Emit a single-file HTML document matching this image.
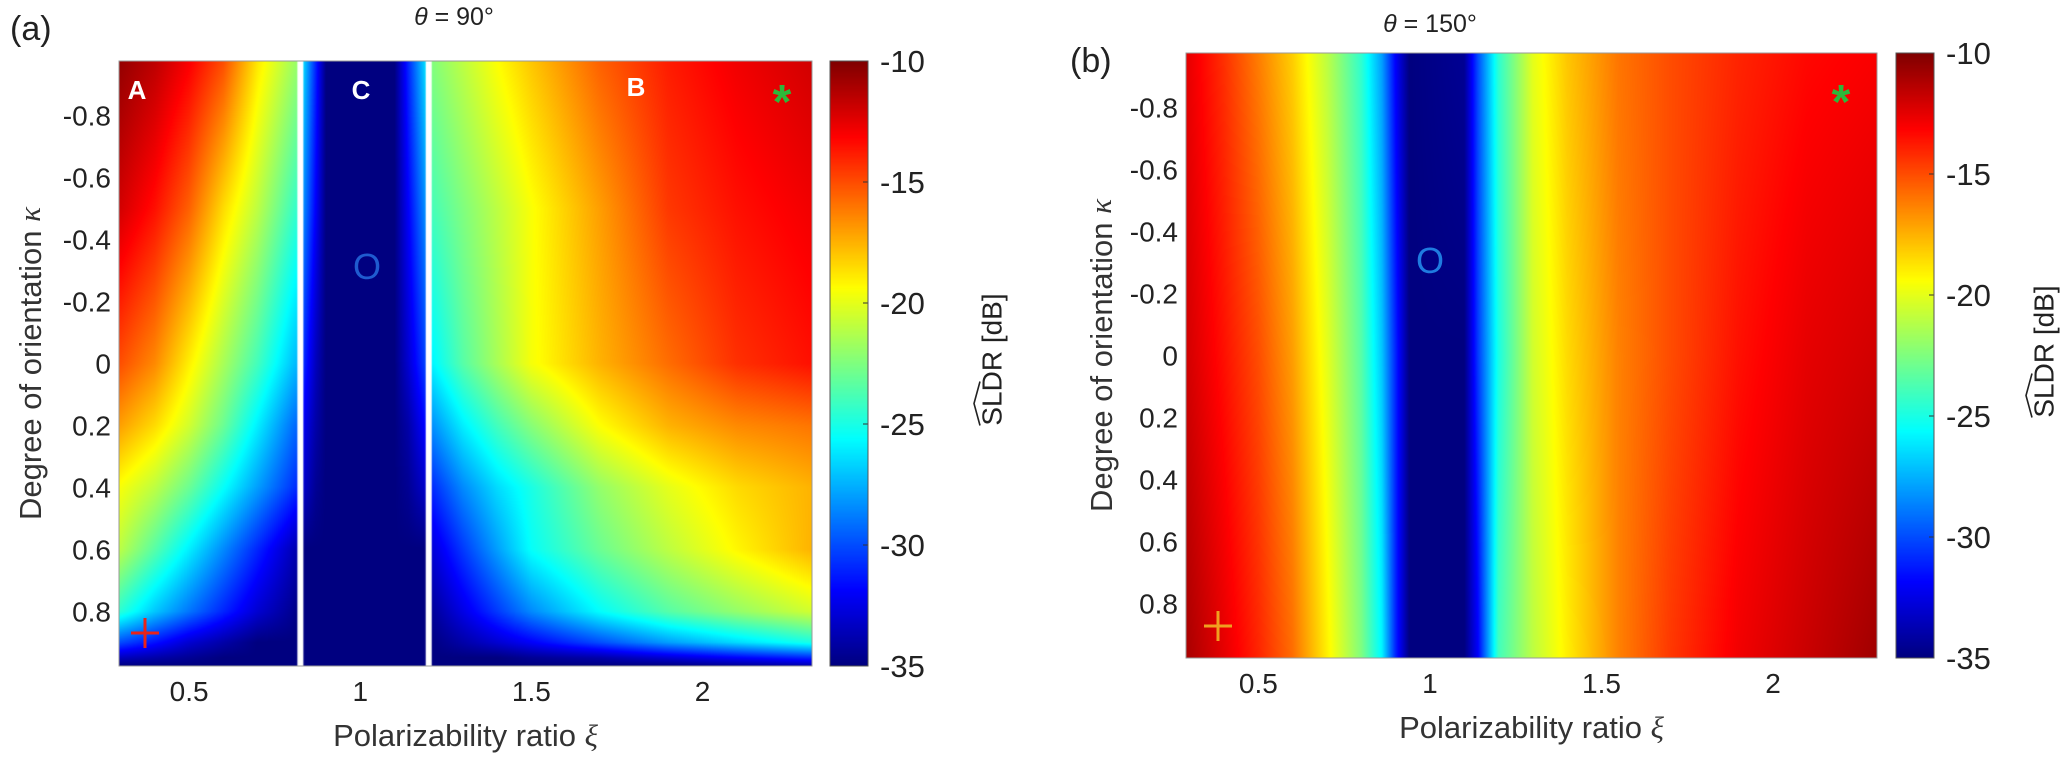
<!DOCTYPE html>
<html><head><meta charset="utf-8">
<style>
body{margin:0;background:#fff;width:2067px;height:771px;overflow:hidden;position:relative;font-family:"Liberation Sans",sans-serif}
canvas{position:absolute}
svg{position:absolute;left:0;top:0}
</style></head><body>
<canvas id="ca" style="left:119px;top:61px" width="693" height="605"></canvas>
<canvas id="cba" style="left:830px;top:61px" width="38" height="605"></canvas>
<canvas id="cb" style="left:1186px;top:53px" width="691" height="605"></canvas>
<canvas id="cbb" style="left:1896px;top:53px" width="38" height="605"></canvas>
<svg id="ov" width="2067" height="771" font-family="Liberation Sans, sans-serif"></svg>
<script>
// ---- data panel (a) ----
const xiA=[0.295,0.4,0.5,0.6,0.7,0.8,0.82,0.83,0.87,0.9,1.1,1.14,1.195,1.205,1.3,1.4,1.5,1.7,1.9,2.1,2.32];
const kapA=[-0.976,-0.5,0,0.2,0.4,0.6,0.8,0.9,0.95,0.976];
const valA=[
[-10.5,-11.5,-13,-15,-18.8,-21.5,-22,-26,-31,-35,-35,-31,-26,-22.5,-21,-19.4,-18,-15.5,-13.8,-12.8,-12],
[-12,-13.5,-15.5,-18.5,-21,-24,-24.5,-28,-32,-35,-35,-32,-28,-24,-22.5,-21,-19.5,-17,-14.5,-13.5,-12.8],
[-15,-16.5,-19,-21.5,-24,-27,-27.5,-30.5,-33.5,-35,-35,-33,-30,-26,-23.5,-21.5,-19.6,-17.5,-15.8,-14.3,-13.5],
[-17,-18.5,-20.5,-23,-26,-29,-29.5,-32,-34,-35,-35,-34,-31.5,-28.5,-26,-24,-22.3,-19.4,-17.5,-16.5,-16],
[-19.5,-21,-23,-25.5,-28,-30.5,-31,-33,-34.5,-35,-35,-34.5,-33,-31,-28.5,-26.5,-25,-22,-20,-18.5,-17.5],
[-21,-23.5,-26,-28.5,-31,-33.5,-34,-35,-35,-35,-35,-35,-35,-33,-30.5,-28,-25.5,-23,-21,-19.2,-17.5],
[-24.5,-27,-29,-31,-33,-34.5,-35,-35,-35,-35,-35,-35,-35,-34.5,-32.5,-30.5,-28.5,-25.6,-23.5,-22,-20.5],
[-30,-31.5,-33,-34,-35,-35,-35,-35,-35,-35,-35,-35,-35,-35,-34,-33,-32,-30,-28,-26.5,-25],
[-33.5,-34,-34.5,-35,-35,-35,-35,-35,-35,-35,-35,-35,-35,-35,-35,-35,-34.5,-34,-33,-32,-31],
[-35,-35,-35,-35,-35,-35,-35,-35,-35,-35,-35,-35,-35,-35,-35,-35,-35,-35,-35,-34.5,-34]];
const gapsA=[0.825,1.2];
// ---- data panel (b) ----
const xiB=[0.29,0.4,0.5,0.6,0.7,0.8,0.86,0.9,0.94,1.1,1.14,1.2,1.3,1.4,1.55,1.7,1.9,2.1,2.3];
const kapB=[-0.976,0,0.976];
const valB=[
[-12.5,-14.3,-16.2,-18.2,-21,-24.5,-28,-32,-35,-34.5,-30,-24.5,-20,-18,-16,-15,-14,-13.3,-13],
[-12,-13.5,-15,-17,-20,-23.5,-27,-31,-35,-35,-30.5,-25,-20.5,-18.5,-16.3,-15,-13.5,-12.5,-12],
[-11,-12.5,-14,-15.8,-19,-22.5,-25.8,-31,-35,-35,-32,-24,-21,-19,-16.3,-14.5,-12.8,-11.8,-10.8]];
const cbTicks=[-10,-15,-20,-25,-30,-35];
const xTicks=[0.5,1,1.5,2];
const yTicks=[-0.8,-0.6,-0.4,-0.2,0,0.2,0.4,0.6,0.8];

function jet(v){
  let t=(v+35)/25; t=Math.max(0,Math.min(1,t));
  const f=(a)=>Math.max(0,Math.min(1,1.5-Math.abs(4*t-a)));
  return [f(3)*255,f(2)*255,f(1)*255];
}
function interp(arr,x){let i=0;while(i<arr.length-2&&x>arr[i+1])i++;let t=(x-arr[i])/(arr[i+1]-arr[i]);t=Math.max(0,Math.min(1,t));return [i,t];}
function drawMap(id,xs,ks,vals,x0,x1,k0,k1){
  const c=document.getElementById(id),g=c.getContext('2d'),W=c.width,H=c.height;
  const img=g.createImageData(W,H);
  for(let py=0;py<H;py++){const k=k0+(k1-k0)*(py+0.5)/H;const [j,u]=interp(ks,k);
    for(let px=0;px<W;px++){const x=x0+(x1-x0)*(px+0.5)/W;const [i,t]=interp(xs,x);
      const a=vals[j][i]*(1-t)+vals[j][i+1]*t,b=vals[j+1][i]*(1-t)+vals[j+1][i+1]*t;
      const col=jet(a*(1-u)+b*u);const o=(py*W+px)*4;
      img.data[o]=col[0];img.data[o+1]=col[1];img.data[o+2]=col[2];img.data[o+3]=255;}}
  g.putImageData(img,0,0);
}
function drawCB(id){const c=document.getElementById(id),g=c.getContext('2d');
  for(let py=0;py<c.height;py++){const col=jet(-10-25*(py+0.5)/c.height);g.fillStyle=`rgb(${col[0]|0},${col[1]|0},${col[2]|0})`;g.fillRect(0,py,c.width,1);}}
const A={x0:0.295,x1:2.32,k0:-0.976,k1:0.976,L:119,T:61,W:693,H:605};
const B={x0:0.289,x1:2.303,k0:-0.976,k1:0.976,L:1186,T:53,W:691,H:605};
drawMap('ca',xiA,kapA,valA,A.x0,A.x1,A.k0,A.k1);
drawMap('cb',xiB,kapB,valB,B.x0,B.x1,B.k0,B.k1);
drawCB('cba');drawCB('cbb');
const gA=document.getElementById('ca').getContext('2d');
gA.fillStyle='#fff';
gapsA.forEach(x=>{gA.fillRect((x-A.x0)/(A.x1-A.x0)*A.W-3,0,6,A.H);});

const ov=document.getElementById('ov');const NS='http://www.w3.org/2000/svg';
function el(tag,attrs,txt){const e=document.createElementNS(NS,tag);for(const k in attrs)e.setAttribute(k,attrs[k]);if(txt!==undefined)e.textContent=txt;ov.appendChild(e);return e;}
function axes(P,cbL,cbW,name,ylx,cbx){
  el('rect',{x:P.L,y:P.T,width:P.W,height:P.H,fill:'none',stroke:'#999','stroke-width':1});
  xTicks.forEach(v=>{const x=P.L+(v-P.x0)/(P.x1-P.x0)*P.W;
    const t=el('text',{x:x,y:P.T+P.H+35,'font-size':28,'text-anchor':'middle',fill:'#222'},String(v));
    });
  yTicks.forEach(v=>{const y=P.T+(v-P.k0)/(P.k1-P.k0)*P.H;
    const t=el('text',{x:P.L-8,y:y+10,'font-size':28,'text-anchor':'end',fill:'#222'},String(v));
    });
  cbTicks.forEach(v=>{const y=P.T+(-10-v)/25*P.H;
    el('line',{x1:cbL+cbW-5,x2:cbL+cbW,y1:y,y2:y,stroke:'#333','stroke-width':1});
    const t=el('text',{x:cbL+cbW+12,y:y+11,'font-size':31,fill:'#222'},String(v));
    });
  el('rect',{x:cbL,y:P.T,width:cbW,height:P.H,fill:'none',stroke:'#555','stroke-width':1});
  const xl=el('text',{x:P.L+P.W/2,y:P.T+P.H+80,'font-size':31,'text-anchor':'middle',fill:'#333'});
  xl.innerHTML='Polarizability ratio <tspan font-family="Liberation Serif" font-style="italic">ξ</tspan>';
  
  const yy=P.T+P.H/2;
  const yl=el('text',{x:ylx,y:yy,'font-size':31,'text-anchor':'middle','dominant-baseline':'middle',fill:'#333',transform:`rotate(-90 ${ylx} ${yy})`});
  yl.innerHTML='Degree of orientation <tspan font-family="Liberation Serif" font-style="italic">κ</tspan>';
  
  const cy=P.T+P.H/2-4;
  const cl=el('text',{x:cbx,y:cy,'font-size':28,'text-anchor':'middle','dominant-baseline':'middle',fill:'#222',transform:`rotate(-90 ${cbx} ${cy})`},'SLDR [dB]');
  
  el('polyline',{points:`${cbx-14},${cy+66} ${cbx-20},${cy+44} ${cbx-14},${cy+22}`,fill:'none',stroke:'#222','stroke-width':1.6});
}
axes(A,830,38,'panel-a',33,994);
axes(B,1896,38,'panel-b',1104,2046);
function txt(x,y,s,attrs,name){const t=el('text',Object.assign({x:x,y:y},attrs),s);return t;}
txt(10,40,'(a)',{'font-size':34,fill:'#222'},'panel-a-label');
txt(1070,72,'(b)',{'font-size':34,fill:'#222'},'panel-b-label');
const t1=txt(454,25,'',{'font-size':25,'text-anchor':'middle',fill:'#222'},'panel-a-title');
t1.innerHTML='<tspan font-style="italic">θ</tspan> = 90°';
const t2=txt(1430,32,'',{'font-size':25,'text-anchor':'middle',fill:'#222'},'panel-b-title');
t2.innerHTML='<tspan font-style="italic">θ</tspan> = 150°';
txt(137,99,'A',{'font-size':26,'font-weight':'bold','text-anchor':'middle',fill:'#fff'},'region-a-label');
txt(361,99,'C',{'font-size':26,'font-weight':'bold','text-anchor':'middle',fill:'#fff'},'region-c-label');
txt(636,96,'B',{'font-size':26,'font-weight':'bold','text-anchor':'middle',fill:'#fff'},'region-b-label');
txt(367,279,'O',{'font-size':36,'text-anchor':'middle',fill:'#1f5bd0'},'marker-o-a');
txt(1430,273,'O',{'font-size':36,'text-anchor':'middle',fill:'#1f7be0'},'marker-o-b');
txt(782,118,'*',{'font-size':48,'font-weight':'bold','text-anchor':'middle',fill:'#2db83a'},'marker-star-a');
txt(1841,118,'*',{'font-size':48,'font-weight':'bold','text-anchor':'middle',fill:'#2db83a'},'marker-star-b');
function plus(x,y,c,name){const g=el('g',{stroke:c,'stroke-width':3});
  const a=document.createElementNS(NS,'line');a.setAttribute('x1',x-14);a.setAttribute('x2',x+14);a.setAttribute('y1',y);a.setAttribute('y2',y);g.appendChild(a);
  const b=document.createElementNS(NS,'line');b.setAttribute('x1',x);b.setAttribute('x2',x);b.setAttribute('y1',y-15);b.setAttribute('y2',y+15);g.appendChild(b);}
plus(145,633,'#e8231a','marker-plus-a');
plus(1218,626,'#f0a020','marker-plus-b');
</script>
</body></html>
